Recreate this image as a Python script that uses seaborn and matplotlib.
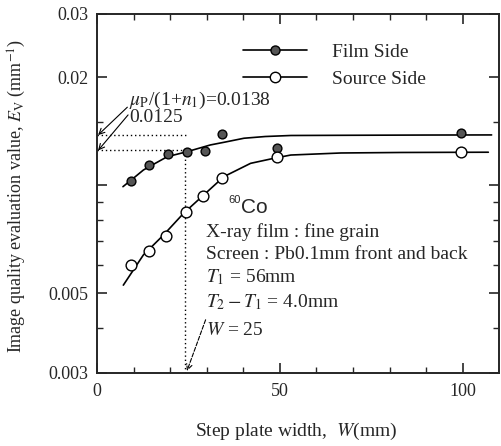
import matplotlib
matplotlib.use("Agg")
import matplotlib.pyplot as plt
import seaborn as sns
from matplotlib.lines import Line2D
from matplotlib.ticker import FixedLocator, NullFormatter

# measured points (step plate width W in mm, evaluation value Ev)
film_w = [9.2, 14.1, 19.3, 24.5, 29.4, 34.2, 49.2, 99.4]
film_ev = [0.0103, 0.0114, 0.0122, 0.01236, 0.01246, 0.01387, 0.01273, 0.01396]
source_w = [9.3, 14.3, 18.9, 24.2, 29.1, 34.1, 49.3, 99.6]
source_ev = [0.0060, 0.00656, 0.00724, 0.00843, 0.00934, 0.01046, 0.01195, 0.01236]

# fitted curves
film_fit_w = [7.1, 10, 12.7, 16, 19.2, 24.6, 31.0, 35, 40.2, 46, 53, 70, 90, 107.9]
film_fit_ev = [0.00991, 0.01047, 0.01103, 0.01152, 0.01201, 0.0124, 0.01295,
               0.01319, 0.01352, 0.01367, 0.01376, 0.01378, 0.0138, 0.01381]
source_fit_w = [7.2, 12.7, 18.2, 23.7, 29.2, 34.7, 42.0, 48.4, 53.0, 66.7, 83.2, 107]
source_fit_ev = [0.00527, 0.0064, 0.00727, 0.00836, 0.0094, 0.01057, 0.01151,
                 0.01189, 0.01214, 0.0123, 0.01234, 0.01236]

limit_ev = 0.0138
w25_ev = 0.0125
w25_w = 24.0

sns.set_style("ticks")
plt.rcParams["font.family"] = ["Liberation Serif", "DejaVu Serif"]
plt.rcParams["mathtext.fontset"] = "stix"

fig = plt.figure(figsize=(5.01, 4.46), dpi=100)
ax = fig.add_axes([0.1936, 0.1637, 0.803, 0.805])

sns.lineplot(x=film_fit_w, y=film_fit_ev, ax=ax, color="black", lw=1.2)
sns.lineplot(x=source_fit_w, y=source_fit_ev, ax=ax, color="black", lw=1.2)
sns.scatterplot(x=film_w, y=film_ev, ax=ax, s=40, color="#555555",
                edgecolor="black", linewidth=1.0, zorder=4)
sns.scatterplot(x=source_w, y=source_ev, ax=ax, s=60, color="white",
                edgecolor="black", linewidth=1.0, zorder=4)

# dotted guide lines
ax.plot([0, w25_w + 0.4], [limit_ev, limit_ev], ls=(0, (1, 2)), color="black", lw=1)
ax.plot([0, w25_w], [w25_ev, w25_ev], ls=(0, (1, 2)), color="black", lw=1)
ax.plot([w25_w, w25_w], [0.003, w25_ev], ls=(0, (1, 2)), color="black", lw=1)

ax.set_yscale("log")
ax.set_xlim(0, 110)
ax.set_ylim(0.003, 0.03)
ax.set_xticks([0, 50, 100])
ax.xaxis.set_minor_locator(FixedLocator([10, 20, 30, 40, 60, 70, 80, 90]))
ax.set_yticks([0.003, 0.005, 0.01, 0.02, 0.03])
ax.set_yticklabels(["0.003", "0.005", "", "0.02", "0.03"])
ax.yaxis.set_minor_locator(FixedLocator([0.004, 0.006, 0.007, 0.008, 0.009, 0.015]))
ax.yaxis.set_minor_formatter(NullFormatter())
ax.tick_params(which="both", direction="in", top=True, right=True, labelsize=13)
ax.tick_params(which="major", length=7, width=1.2)
ax.tick_params(which="minor", length=4, width=1.0)
ax.tick_params(axis="y", pad=6)
ax.tick_params(axis="x", pad=7)
for sp in ax.spines.values():
    sp.set_linewidth(1.4)

ax.set_xlabel("Step plate width,  $W$(mm)", fontsize=14)
ax.xaxis.set_label_coords(0.495, -0.133)
ax.set_ylabel("Image quality evaluation value, $E_\\mathrm{V}$ (mm$^{-1}$)", fontsize=13)
ax.yaxis.set_label_coords(-0.171, 0.493)

handles = [
    Line2D([], [], color="black", lw=1.2, marker="o", ms=6.5,
           markerfacecolor="#555555", markeredgecolor="black"),
    Line2D([], [], color="black", lw=1.2, marker="o", ms=7.5,
           markerfacecolor="white", markeredgecolor="black"),
]
ax.legend(handles, ["Film Side", "Source Side"], loc="upper left",
          bbox_to_anchor=(0.363, 0.919), frameon=False, fontsize=14,
          handlelength=3.3, handletextpad=1.3, labelspacing=0.5,
          borderpad=0, borderaxespad=0, numpoints=1)

# annotations
ax.text(0.0795, 0.760, "$\\mu_\\mathrm{P}$/(1+$n_1$)=0.0138", transform=ax.transAxes,
        fontsize=14, va="center", ha="left")
ax.text(0.0795, 0.711, "0.0125", transform=ax.transAxes,
        fontsize=14, va="center", ha="left")
ax.annotate("", xy=(0.3, limit_ev), xytext=(8.3, 0.0165),
            arrowprops=dict(arrowstyle="->", color="black", lw=0.8, shrinkA=0, shrinkB=0))
ax.annotate("", xy=(0.3, w25_ev), xytext=(8.5, 0.0157),
            arrowprops=dict(arrowstyle="->", color="black", lw=0.8, shrinkA=0, shrinkB=0))
ax.annotate("", xy=(24.6, 0.00304), xytext=(29.7, 0.00422),
            arrowprops=dict(arrowstyle="->", color="black", lw=0.8, ls="--",
                            shrinkA=0, shrinkB=0))

ax.text(0.3256, 0.481, "60", transform=ax.transAxes, fontsize=8,
        family=["Liberation Sans", "DejaVu Sans"], va="center", ha="left")
ax.text(0.357, 0.460, "Co", transform=ax.transAxes, fontsize=15,
        family=["Liberation Sans", "DejaVu Sans"], va="center", ha="left")
info = ["X-ray film : fine grain",
        "Screen : Pb0.1mm front and back",
        "$T_1$ = 56mm",
        "$T_2 - T_1$ = 4.0mm",
        "$W$ = 25"]
info_y = [0.393, 0.331, 0.267, 0.198, 0.117]
for s, yy in zip(info, info_y):
    ax.text(0.2709, yy, s, transform=ax.transAxes, fontsize=14, va="center", ha="left")

fig.savefig("out.png", dpi=100)
